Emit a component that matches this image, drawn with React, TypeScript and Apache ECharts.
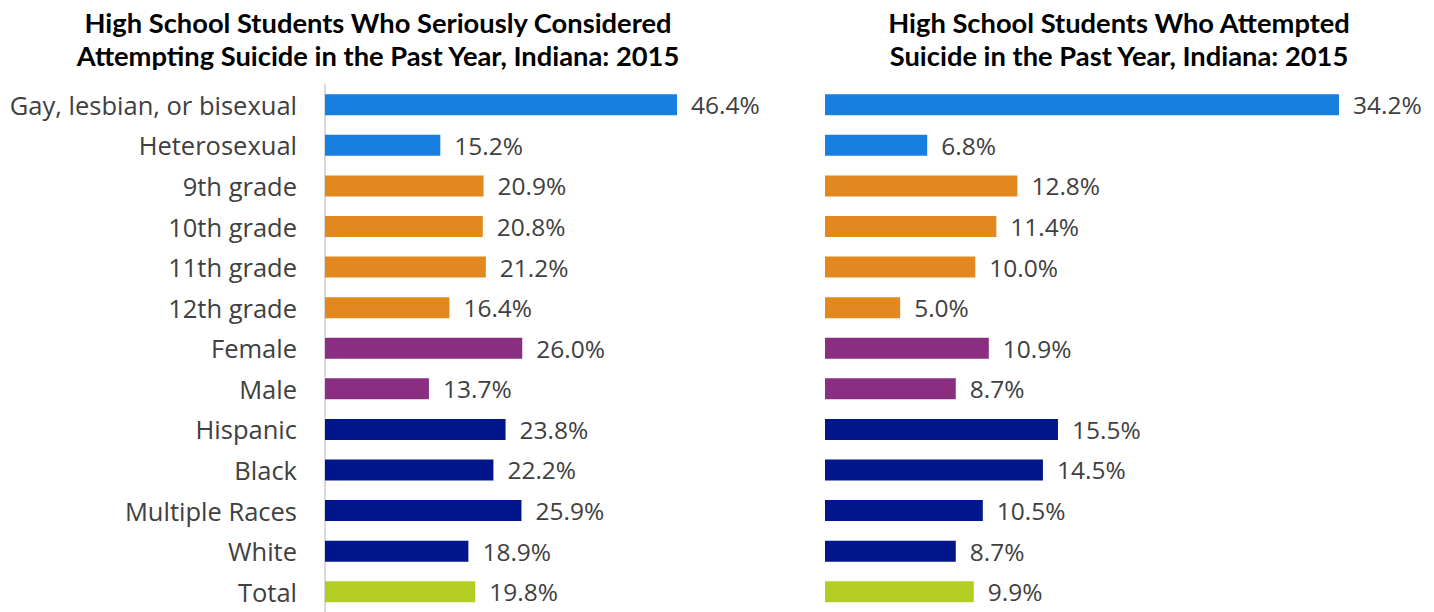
import React, { useEffect, useRef } from "react";
import * as echarts from "echarts";

const categories = [
  "Gay, lesbian, or bisexual",
  "Heterosexual",
  "9th grade",
  "10th grade",
  "11th grade",
  "12th grade",
  "Female",
  "Male",
  "Hispanic",
  "Black",
  "Multiple Races",
  "White",
  "Total",
];
const considered = [46.4, 15.2, 20.9, 20.8, 21.2, 16.4, 26.0, 13.7, 23.8, 22.2, 25.9, 18.9, 19.8];
const attempted = [34.2, 6.8, 12.8, 11.4, 10.0, 5.0, 10.9, 8.7, 15.5, 14.5, 10.5, 8.7, 9.9];
const groupColors = [
  "#167FE0", "#167FE0",
  "#E3881E", "#E3881E", "#E3881E", "#E3881E",
  "#8A2E82", "#8A2E82",
  "#00168A", "#00168A", "#00168A", "#00168A",
  "#B4CD22",
];
const titleLeft = "High School Students Who Seriously Considered\nAttempting Suicide in the Past Year, Indiana: 2015";
const titleRight = "High School Students Who Attempted\nSuicide in the Past Year, Indiana: 2015";

const FONT = "Open Sans";
const TITLE_FONT = "Lato";

export default function App() {
  const ref = useRef<HTMLDivElement>(null);
  useEffect(() => {
    document.body.style.margin = "0";
    const chart = echarts.init(ref.current!, null, { renderer: "svg" });
    const mkData = (vals: number[]) =>
      vals.map((v, i) => ({ value: v, itemStyle: { color: groupColors[i] } }));
    const label = {
      show: true,
      position: "right" as const,
      distance: 14,
      fontFamily: FONT,
      fontSize: 24.5,
      color: "#404040",
      formatter: (p: any) => p.value.toFixed(1) + "%",
    };
    const titleStyle = {
      fontFamily: TITLE_FONT,
      fontSize: 27.3,
      fontWeight: "bold",
      color: "#000",
      lineHeight: 33,
    };
    chart.setOption({
      animation: false,
      backgroundColor: "#ffffff",
      textStyle: { fontFamily: FONT },
      title: [
        { text: titleLeft, left: 373, top: 1, textAlign: "center", textStyle: titleStyle },
        { text: titleRight, left: 1114, top: 1, textAlign: "center", textStyle: titleStyle },
      ],
      grid: [
        { left: 325, top: 84.5, width: 379.3, height: 533 },
        { left: 825, top: 84.5, width: 601.2, height: 533 },
      ],
      xAxis: [
        { type: "value", gridIndex: 0, min: 0, max: 50, show: false },
        { type: "value", gridIndex: 1, min: 0, max: 40, show: false },
      ],
      yAxis: [
        {
          type: "category",
          gridIndex: 0,
          data: categories,
          inverse: true,
          axisLine: { show: true, lineStyle: { color: "#d9d9d9", width: 2 } },
          axisTick: { show: false },
          axisLabel: { fontFamily: FONT, fontSize: 25.5, color: "#404040", margin: 28 },
        },
        {
          type: "category",
          gridIndex: 1,
          data: categories,
          inverse: true,
          axisLine: { show: false },
          axisTick: { show: false },
          axisLabel: { show: false },
        },
      ],
      series: [
        {
          type: "bar",
          xAxisIndex: 0,
          yAxisIndex: 0,
          data: mkData(considered),
          barWidth: 21,
          label,
        },
        {
          type: "bar",
          xAxisIndex: 1,
          yAxisIndex: 1,
          data: mkData(attempted),
          barWidth: 21,
          label,
        },
      ],
    });
    return () => chart.dispose();
  }, []);
  return <div ref={ref} style={{ width: 1434, height: 612 }} />;
}
